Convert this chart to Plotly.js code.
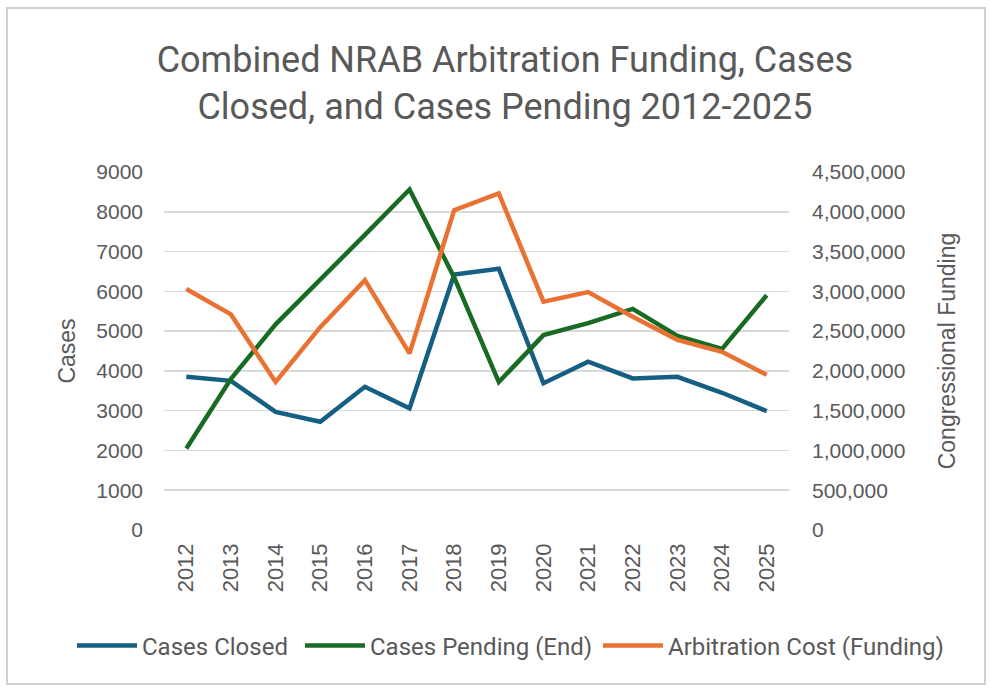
<!DOCTYPE html>
<html>
<head>
<meta charset="utf-8">
<script src="https://cdn.plot.ly/plotly-3.0.1.min.js"></script>
<style>html,body{margin:0;padding:0;background:#fff;}#chart{width:990px;height:688px;}</style>
</head>
<body>
<div id="chart"></div>
<script>
const years = ["2012","2013","2014","2015","2016","2017","2018","2019","2020","2021","2022","2023","2024","2025"];
const casesClosed = [3850, 3750, 2970, 2720, 3600, 3060, 6420, 6570, 3690, 4230, 3810, 3850, 3450, 2990];
const casesPending = [2050, 3800, 5170, 6280, 7420, 8560, 6350, 3720, 4900, 5200, 5560, 4880, 4550, 5900];
const arbitrationCost = [3030000, 2710000, 1860000, 2550000, 3140000, 2220000, 4020000, 4230000, 2870000, 2990000, 2680000, 2390000, 2240000, 1950000];

const tickColor = "#595959";
const traces = [
  {x: years, y: casesClosed, name: "Cases Closed", type: "scatter", mode: "lines",
   line: {color: "#156082", width: 4.5}, yaxis: "y", legend: "legend"},
  {x: years, y: casesPending, name: "Cases Pending (End)", type: "scatter", mode: "lines",
   line: {color: "#196B24", width: 4.5}, yaxis: "y", legend: "legend2"},
  {x: years, y: arbitrationCost, name: "Arbitration Cost (Funding)", type: "scatter", mode: "lines",
   line: {color: "#E97132", width: 4.5}, yaxis: "y2", legend: "legend3"}
];

const legendFont = {family: "Roboto, sans-serif", size: 24, color: tickColor};
function legendAt(x) {
  return {orientation: "h", xref: "paper", yref: "paper", x: x, xanchor: "left", y: -0.324, yanchor: "middle",
          font: legendFont, itemwidth: 60, bgcolor: "rgba(0,0,0,0)"};
}

const layout = {
  width: 990, height: 688,
  paper_bgcolor: "#ffffff", plot_bgcolor: "#ffffff",
  margin: {l: 164, r: 201, t: 172, b: 158, autoexpand: false},
  font: {family: "Liberation Sans, Arial, sans-serif", color: tickColor},
  title: {text: "Combined NRAB Arbitration Funding, Cases<br>Closed, and Cases Pending 2012-2025",
          font: {family: "Roboto, sans-serif", size: 36, color: "#595959"},
          x: 0.51, xanchor: "center", y: 0.895, yanchor: "middle"},
  xaxis: {type: "category", range: [-0.5, 13.5], tickangle: -90, tickfont: {size: 22, color: tickColor},
          showgrid: false, zeroline: false, showline: false, ticks: "", ticklabelstandoff: 8, automargin: false},
  yaxis: {range: [0, 9000], dtick: 1000, tickformat: "d", showgrid: true, gridcolor: "#d9d9d9", gridwidth: 1.5,
          zeroline: false, showline: false, ticks: "", tickfont: {size: 21, color: tickColor},
          ticklabelstandoff: 20, automargin: false,
          title: {text: "Cases", font: {size: 23, color: tickColor}, standoff: 14}},
  yaxis2: {range: [0, 4500000], dtick: 500000, tickformat: ",d", overlaying: "y", side: "right",
           showgrid: false, zeroline: false, showline: false, ticks: "", tickfont: {size: 21, color: tickColor},
           ticklabelstandoff: 22, automargin: false,
           title: {text: "Congressional Funding", font: {size: 23, color: tickColor}, standoff: 34}},
  legend: legendAt(-0.1472),
  legend2: legendAt(0.2176),
  legend3: legendAt(0.6944),
  showlegend: true,
  shapes: [{type: "rect", xref: "paper", yref: "paper", x0: -0.2512, x1: 1.3136, y0: -0.430, y1: 1.458,
            line: {color: "#d0d0d0", width: 2}, fillcolor: "rgba(0,0,0,0)", layer: "below"}]
};

Plotly.newPlot("chart", traces, layout, {displayModeBar: false, staticPlot: true});
</script>
</body>
</html>
